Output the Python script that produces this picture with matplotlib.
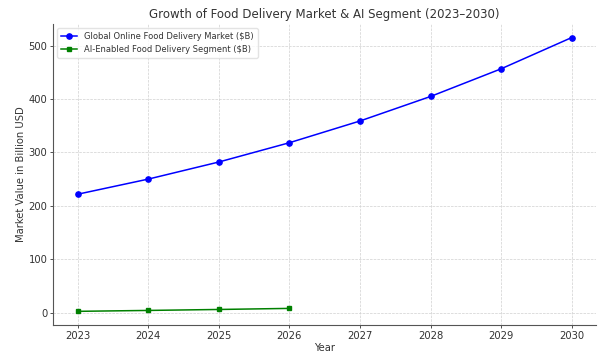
import matplotlib
matplotlib.use("Agg")
import matplotlib.pyplot as plt

years = [2023, 2024, 2025, 2026, 2027, 2028, 2029, 2030]
market = [221.7, 250.0, 282.0, 318.1, 358.8, 404.7, 456.5, 515.0]

ai_years = [2023, 2024, 2025, 2026]
ai_segment = [2.5, 4.2, 6.0, 8.0]

text_col = "#333333"

fig = plt.figure(figsize=(6.08, 3.56), dpi=100)
ax = fig.add_axes([0.087, 0.087, 0.894, 0.846])

ax.plot(years, market, color="blue", marker="o", markersize=3.8, linewidth=1.1,
        label="Global Online Food Delivery Market ($B)")
ax.plot(ai_years, ai_segment, color="green", marker="s", markersize=3.3, linewidth=1.1,
        label="AI-Enabled Food Delivery Segment ($B)")

ax.set_title("Growth of Food Delivery Market & AI Segment (2023\u20132030)",
             fontsize=8.5, color=text_col, pad=4)
ax.set_xlabel("Year", fontsize=7.2, color=text_col, labelpad=2)
ax.set_ylabel("Market Value in Billion USD", fontsize=7.2, color=text_col, labelpad=1.5)
ax.set_xticks(years)
ax.tick_params(labelsize=7.2, colors=text_col, length=2.5, width=0.6, pad=1.5)
ax.grid(True, linestyle="--", linewidth=0.5, color="#d0d0d0")
for s in ("top", "right"):
    ax.spines[s].set_visible(False)
for s in ("left", "bottom"):
    ax.spines[s].set_color("#555555")
    ax.spines[s].set_linewidth(0.8)

ax.legend(loc="upper left", fontsize=6.0, frameon=True, framealpha=0.8,
          edgecolor="#dddddd", handlelength=2, borderpad=0.45, labelspacing=0.55,
          labelcolor=text_col)

fig.savefig("out.png", dpi=100)
